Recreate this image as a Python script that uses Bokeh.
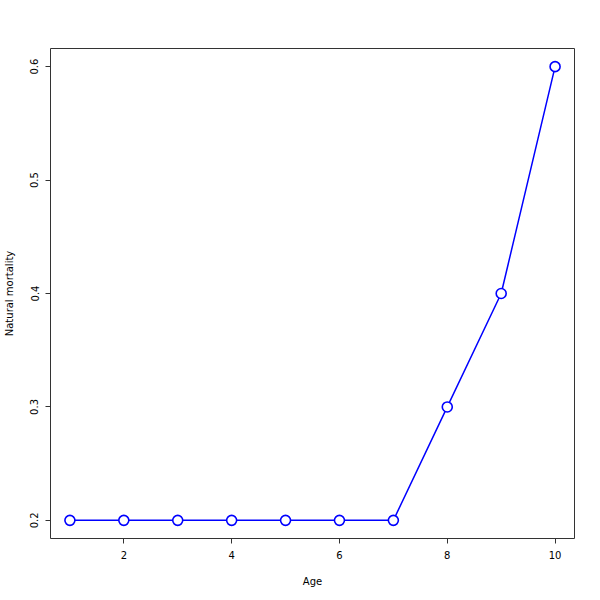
from bokeh.plotting import figure
from bokeh.models import Range1d, FixedTicker
from bokeh.embed import file_html
from bokeh.resources import INLINE

ages = [1, 2, 3, 4, 5, 6, 7, 8, 9, 10]
mortality = [0.2, 0.2, 0.2, 0.2, 0.2, 0.2, 0.2, 0.3, 0.4, 0.6]
x_ticks = [2, 4, 6, 8, 10]
y_ticks = [0.2, 0.3, 0.4, 0.5, 0.6]

xpad = (max(ages) - min(ages)) * 0.04
ypad = (max(mortality) - min(mortality)) * 0.04

p = figure(width=600, height=600, output_backend="svg", toolbar_location=None,
           x_range=Range1d(min(ages) - xpad, max(ages) + xpad),
           y_range=Range1d(min(mortality) - ypad, max(mortality) + ypad),
           min_border_left=49, min_border_right=26, min_border_top=48, min_border_bottom=62)

p.line(ages, mortality, line_color="#0000FF", line_width=1.5)
p.scatter(ages, mortality, size=10, fill_color="white", line_color="#0000FF", line_width=1.6)

p.xgrid.visible = False
p.ygrid.visible = False
p.outline_line_color = "#333333"
p.outline_line_width = 1
p.background_fill_color = "white"
p.border_fill_color = "white"

p.xaxis.ticker = FixedTicker(ticks=x_ticks)
p.yaxis.ticker = FixedTicker(ticks=y_ticks)
p.xaxis.axis_label = "Age"
p.yaxis.axis_label = "Natural mortality"
p.yaxis.major_label_orientation = "parallel"

for ax in (p.xaxis[0], p.yaxis[0]):
    ax.axis_line_color = None
    ax.major_tick_in = 0
    ax.major_tick_out = 5
    ax.major_tick_line_color = "#333333"
    ax.minor_tick_line_color = None
    ax.major_label_text_font = "DejaVu Sans"
    ax.major_label_text_font_size = "10px"
    ax.major_label_text_color = "black"
    ax.axis_label_text_font = "DejaVu Sans"
    ax.axis_label_text_font_size = "10px"
    ax.axis_label_text_font_style = "normal"
    ax.axis_label_text_color = "black"

p.xaxis[0].major_label_standoff = 7
p.xaxis[0].axis_label_standoff = 14
p.yaxis[0].major_label_standoff = 7
p.yaxis[0].axis_label_standoff = 13

open("out.html", "w").write(file_html(p, INLINE))
